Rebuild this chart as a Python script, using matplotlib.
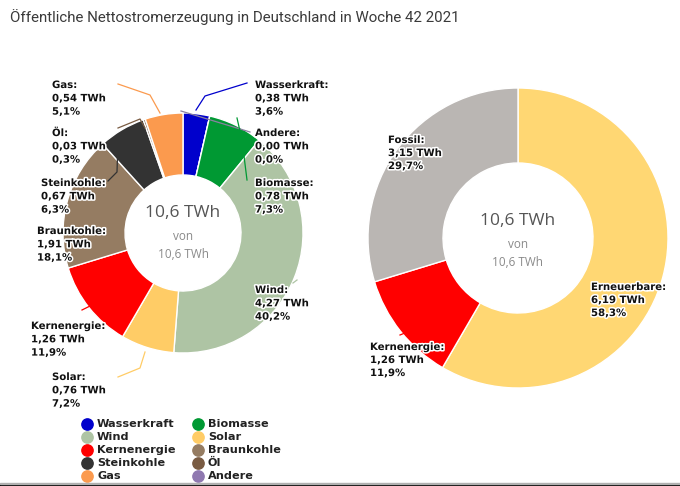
import matplotlib
matplotlib.use("Agg")
import matplotlib.pyplot as plt
import matplotlib.patheffects as pe
from matplotlib.patches import Rectangle

W, H = 680, 486

# left donut: all sources, clockwise from 12 o'clock
sources = ["Wasserkraft", "Andere", "Biomasse", "Wind", "Solar",
           "Kernenergie", "Braunkohle", "Steinkohle", "Öl", "Gas"]
twh = [0.38, 0.00, 0.78, 4.27, 0.76, 1.26, 1.91, 0.67, 0.03, 0.54]
twh_txt = ["0,38", "0,00", "0,78", "4,27", "0,76", "1,26", "1,91", "0,67", "0,03", "0,54"]
pct_txt = ["3,6", "0,0", "7,3", "40,2", "7,2", "11,9", "18,1", "6,3", "0,3", "5,1"]
colors = {
    "Wasserkraft": "#0000cc", "Biomasse": "#009933", "Wind": "#aec4a4",
    "Solar": "#ffcc66", "Kernenergie": "#ff0000", "Braunkohle": "#957c62",
    "Steinkohle": "#333333", "Öl": "#7a5c43", "Gas": "#fb9a4e",
    "Andere": "#8f78b0",
}

# right donut: groups
groups = ["Erneuerbare", "Kernenergie", "Fossil"]
group_twh = [6.19, 1.26, 3.15]
group_twh_txt = ["6,19", "1,26", "3,15"]
group_pct_txt = ["58,3", "11,9", "29,7"]
group_colors = ["#ffd773", "#ff0000", "#bab6b3"]

legend_order = ["Wasserkraft", "Biomasse", "Wind", "Solar", "Kernenergie",
                "Braunkohle", "Steinkohle", "Öl", "Gas", "Andere"]

total_txt = "10,6 TWh"

# label anchor (left x, first-line y) in pixels, plus leader polyline
left_labels = {
    "Gas": ((52, 85), [(118, 84), (150, 95), (160, 113)]),
    "Öl": ((52, 133), [(118, 128), (140, 119), (145, 128)]),
    "Steinkohle": ((41, 183), [(108, 181), (117, 172), (118, 140), (123, 132)]),
    "Braunkohle": ((37, 231), None),
    "Kernenergie": ((31, 326), [(82, 310), (90, 306)]),
    "Solar": ((52, 377), [(118, 377), (140, 368), (145, 352)]),
    "Wasserkraft": ((255, 85), [(247, 83), (205, 96), (196, 110)]),
    "Andere": ((255, 133), [(250, 132), (181, 111)]),
    "Biomasse": ((255, 183), [(247, 180), (242, 140), (237, 118)]),
    "Wind": ((255, 290), [(297, 280), (293, 283)]),
}
right_labels = {
    "Fossil": (388, 140),
    "Erneuerbare": (591, 287),
    "Kernenergie": (370, 347),
}

fig = plt.figure(figsize=(W / 100, H / 100), dpi=100)
ax = fig.add_axes([0, 0, 1, 1])


def Y(y):
    return H - y


halo = [pe.withStroke(linewidth=2.2, foreground="white")]
lab_kw = dict(fontsize=7.3, fontweight="bold", color="#111111",
              family="DejaVu Sans", va="center", ha="left",
              linespacing=1.0, path_effects=halo)

# left donut
ax.pie(twh, colors=[colors[s] for s in sources], center=(183, Y(233)),
       radius=120, startangle=90, counterclock=False,
       wedgeprops=dict(width=62, edgecolor="white", linewidth=1))

for i, s in enumerate(sources):
    (lx, ly), line = left_labels[s]
    if line:
        xs = [p[0] for p in line]
        ys = [Y(p[1]) for p in line]
        ax.plot(xs, ys, color=colors[s] if s != "Andere" else "#8a80a0",
                lw=0.9, zorder=3)
    lines = [f"{s}:", f"{twh_txt[i]} TWh", f"{pct_txt[i]}%"]
    for k, t in enumerate(lines):
        ax.text(lx, Y(ly + 13.3 * k), t, zorder=5, **lab_kw)

# right donut
ax.pie(group_twh, colors=group_colors, center=(518, Y(238)),
       radius=150, startangle=90, counterclock=False,
       wedgeprops=dict(width=75, edgecolor="white", linewidth=1))
ax.plot([400, 417, 410], [Y(335), Y(328), Y(337)], color="#ff0000", lw=0.9)
for i, g in enumerate(groups):
    lx, ly = right_labels[g]
    lines = [f"{g}:", f"{group_twh_txt[i]} TWh", f"{group_pct_txt[i]}%"]
    for k, t in enumerate(lines):
        ax.text(lx, Y(ly + 13.0 * k), t, zorder=5, **lab_kw)

# centre texts
for cx, cy in [(183, 233), (518, 241)]:
    ax.text(cx, Y(cy - 20), total_txt, ha="center", va="center",
            fontsize=12.5, color="#555555", family="Open Sans")
    ax.text(cx, Y(cy + 4), "von", ha="center", va="center",
            fontsize=8.5, color="#8a8a8a", family="Open Sans")
    ax.text(cx, Y(cy + 22), total_txt, ha="center", va="center",
            fontsize=8.5, color="#8a8a8a", family="Open Sans")

# legend
for i, s in enumerate(legend_order):
    col, row = i % 2, i // 2
    mx = 87 if col == 0 else 198
    my = 424 + 13 * row
    ax.scatter([mx], [Y(my)], s=66, color=colors[s], zorder=4)
    ax.text(mx + 10, Y(my), s, fontsize=8.1, fontweight="bold", color="#222222",
            family="DejaVu Sans", va="center", ha="left")

# title
ax.text(10, Y(17), "Öffentliche Nettostromerzeugung in Deutschland in Woche 42 2021",
        fontsize=10.8, color="#3a3a3a", family="Roboto", va="center", ha="left")

# bottom bar
ax.add_patch(Rectangle((0, 0), W, 2, color="black", zorder=6))
ax.add_patch(Rectangle((0, 2), W, 1.2, color="#b0b0b0", zorder=6))

ax.set_xlim(0, W)
ax.set_ylim(0, H)
ax.set_aspect("equal")
ax.axis("off")

fig.savefig("out.png", dpi=100, facecolor="white")
